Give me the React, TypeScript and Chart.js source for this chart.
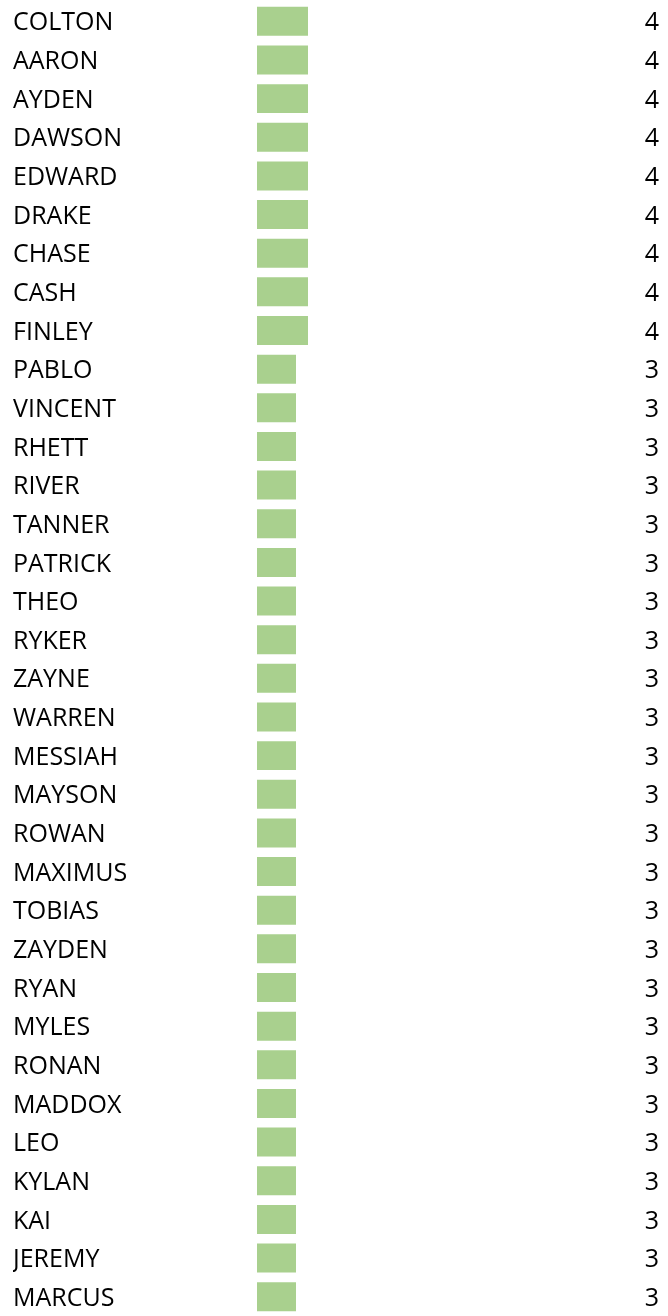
import React, { useEffect, useRef } from "react";
import { Chart, registerables } from "chart.js";

Chart.register(...registerables);

const names: string[] = [
  "COLTON", "AARON", "AYDEN", "DAWSON", "EDWARD", "DRAKE", "CHASE", "CASH", "FINLEY",
  "PABLO", "VINCENT", "RHETT", "RIVER", "TANNER", "PATRICK", "THEO", "RYKER", "ZAYNE",
  "WARREN", "MESSIAH", "MAYSON", "ROWAN", "MAXIMUS", "TOBIAS", "ZAYDEN", "RYAN", "MYLES",
  "RONAN", "MADDOX", "LEO", "KYLAN", "KAI", "JEREMY", "MARCUS",
];

const counts: number[] = [
  4, 4, 4, 4, 4, 4, 4, 4, 4,
  3, 3, 3, 3, 3, 3, 3, 3, 3,
  3, 3, 3, 3, 3, 3, 3, 3, 3,
  3, 3, 3, 3, 3, 3, 3,
];

const countLabels: string[] = counts.map((v) => String(v));

const W = 668;
const H = 1316;
const FONT = { family: "'Open Sans', sans-serif", size: 25 };

export default function App() {
  const ref = useRef<HTMLCanvasElement | null>(null);

  useEffect(() => {
    if (!ref.current) return;
    const chart = new Chart(ref.current, {
      type: "bar",
      data: {
        labels: names,
        datasets: [
          {
            data: counts,
            base: -0.25,
            backgroundColor: "#A9D08E",
            borderWidth: 0,
            barPercentage: 0.75,
            categoryPercentage: 1,
            yAxisID: "y",
          },
        ],
      },
      options: {
        indexAxis: "y",
        responsive: false,
        animation: false,
        devicePixelRatio: 1,
        layout: { padding: { top: 2, bottom: 0, left: 13, right: 9 } },
        plugins: { legend: { display: false }, tooltip: { enabled: false } },
        scales: {
          x: {
            display: false,
            min: -0.25,
            max: 28.25,
          },
          y: {
            type: "category",
            position: "left",
            offset: true,
            grid: { display: false, drawTicks: false },
            border: { display: false },
            ticks: {
              crossAlign: "far",
              color: "#000000",
              font: FONT,
              padding: 0,
              labelOffset: 2,
              autoSkip: false,
            },
            afterFit: (s: any) => {
              s.width = 244;
              s.paddingTop = 0;
              s.paddingBottom = 0;
            },
          },
          y2: {
            type: "category",
            position: "right",
            labels: countLabels,
            offset: true,
            grid: { display: false, drawTicks: false },
            border: { display: false },
            ticks: {
              crossAlign: "far",
              color: "#000000",
              font: FONT,
              padding: 0,
              labelOffset: 2,
              autoSkip: false,
            },
            afterFit: (s: any) => {
              s.width = 60;
              s.paddingTop = 0;
              s.paddingBottom = 0;
            },
          },
        },
      },
    } as any);
    return () => chart.destroy();
  }, []);

  return (
    <div style={{ position: "absolute", left: 0, top: 0, width: W, height: H, background: "#ffffff" }}>
      <canvas ref={ref} width={W} height={H} style={{ display: "block" }} />
    </div>
  );
}
